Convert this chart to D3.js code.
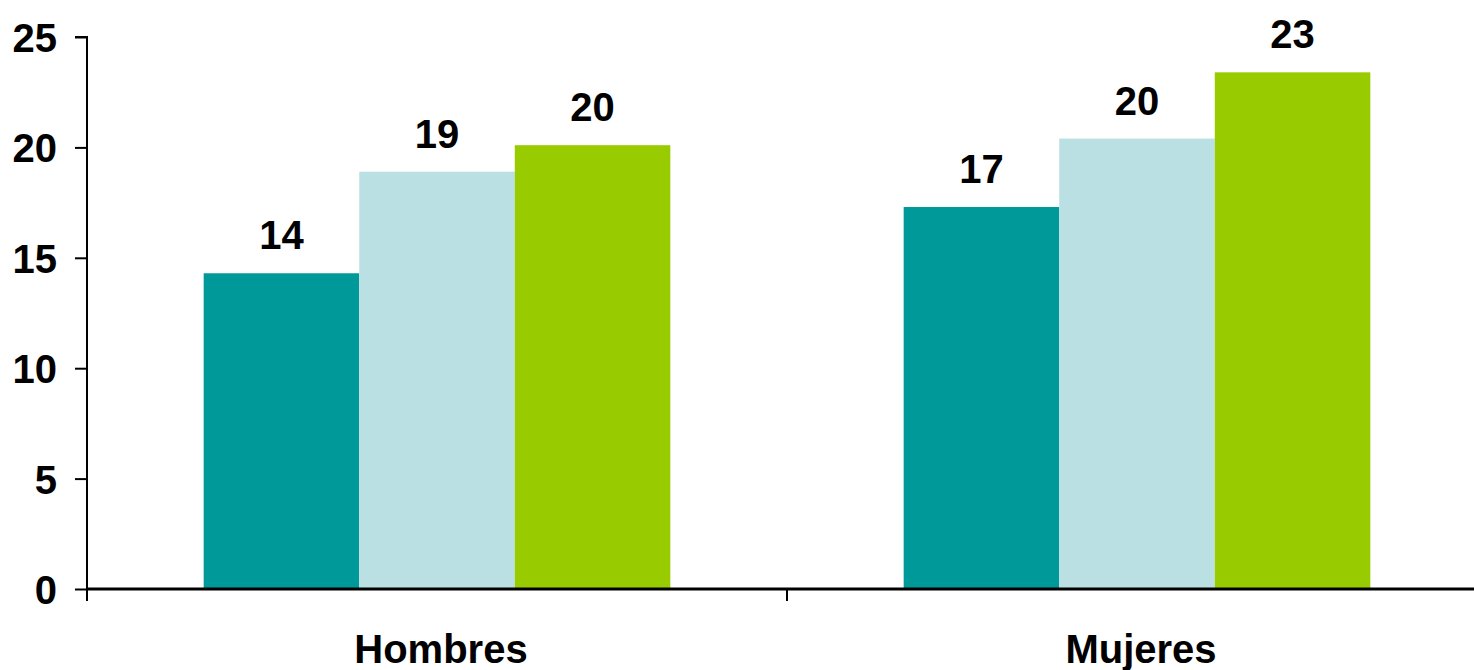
<!DOCTYPE html>
<html>
<head>
<meta charset="utf-8">
<script src="https://cdn.jsdelivr.net/npm/d3@7"></script>
<style>
html,body{margin:0;padding:0;background:#fff;}
svg{display:block;}
text{font-family:"Liberation Sans",Arial,sans-serif;font-weight:bold;fill:#000;}
</style>
</head>
<body>
<svg id="chart" width="1474" height="670"></svg>
<script>
const categories = ["Hombres", "Mujeres"];
const seriesNames = ["Serie 1", "Serie 2", "Serie 3"];
const serie1 = [14.3, 17.3];
const serie2 = [18.9, 20.4];
const serie3 = [20.1, 23.4];
const seriesColors = ["#009999", "#BBE0E3", "#99CC00"];
const yTicks = [0, 5, 10, 15, 20, 25];

const svg = d3.select("#chart");
const W = 1474, H = 670;
const mLeft = 87, mRight = 1487, mTop = 37, mBottom = 589;

const x = d3.scaleBand().domain(categories).range([mLeft, mRight]).paddingInner(0).paddingOuter(0);
const xs = d3.scaleBand().domain(seriesNames).range([0, x.bandwidth()]).paddingInner(0).paddingOuter(0.75);
const y = d3.scaleLinear().domain([0, 25]).range([mBottom, mTop]);

const seriesVals = [serie1, serie2, serie3];
const data = [];
categories.forEach((c, i) => {
  seriesNames.forEach((s, j) => {
    data.push({cat: c, ser: s, val: seriesVals[j][i], color: seriesColors[j]});
  });
});

svg.append("g").selectAll("rect").data(data).join("rect")
  .attr("x", d => x(d.cat) + xs(d.ser))
  .attr("y", d => y(d.val))
  .attr("width", xs.bandwidth())
  .attr("height", d => y(0) - y(d.val))
  .attr("fill", d => d.color);

svg.append("g").selectAll("text").data(data).join("text")
  .attr("x", d => x(d.cat) + xs(d.ser) + xs.bandwidth() / 2)
  .attr("y", d => y(d.val) - 24)
  .attr("text-anchor", "middle")
  .attr("font-size", 40)
  .text(d => Math.round(d.val));

// Y axis
const yAxis = svg.append("g").attr("transform", `translate(${mLeft},0)`)
  .call(d3.axisLeft(y).tickValues(yTicks).tickSize(12).tickPadding(18));
yAxis.select(".domain").attr("stroke", "#000").attr("stroke-width", 2).attr("d", `M-12,${mTop}H0V${mBottom + 12}`);
yAxis.selectAll(".tick line").attr("stroke", "#000").attr("stroke-width", 2);
yAxis.selectAll(".tick text").attr("font-size", 40).attr("font-family", '"Liberation Sans",Arial,sans-serif').attr("font-weight", "bold").attr("fill", "#000").attr("dy", "0.36em");

// X axis
const xAxis = svg.append("g").attr("transform", `translate(0,${mBottom})`);
xAxis.append("line").attr("x1", mLeft).attr("x2", W).attr("y1", 0).attr("y2", 0).attr("stroke", "#000").attr("stroke-width", 3);
xAxis.selectAll("line.sep").data(categories.slice(1)).join("line").attr("class", "sep")
  .attr("x1", d => x(d)).attr("x2", d => x(d)).attr("y1", 0).attr("y2", 12)
  .attr("stroke", "#000").attr("stroke-width", 2);
xAxis.selectAll("text.cat").data(categories).join("text").attr("class", "cat")
  .attr("x", d => x(d) + x.bandwidth() / 2 + 4)
  .attr("y", 74)
  .attr("text-anchor", "middle")
  .attr("font-size", 40)
  .text(d => d);
</script>
</body>
</html>
